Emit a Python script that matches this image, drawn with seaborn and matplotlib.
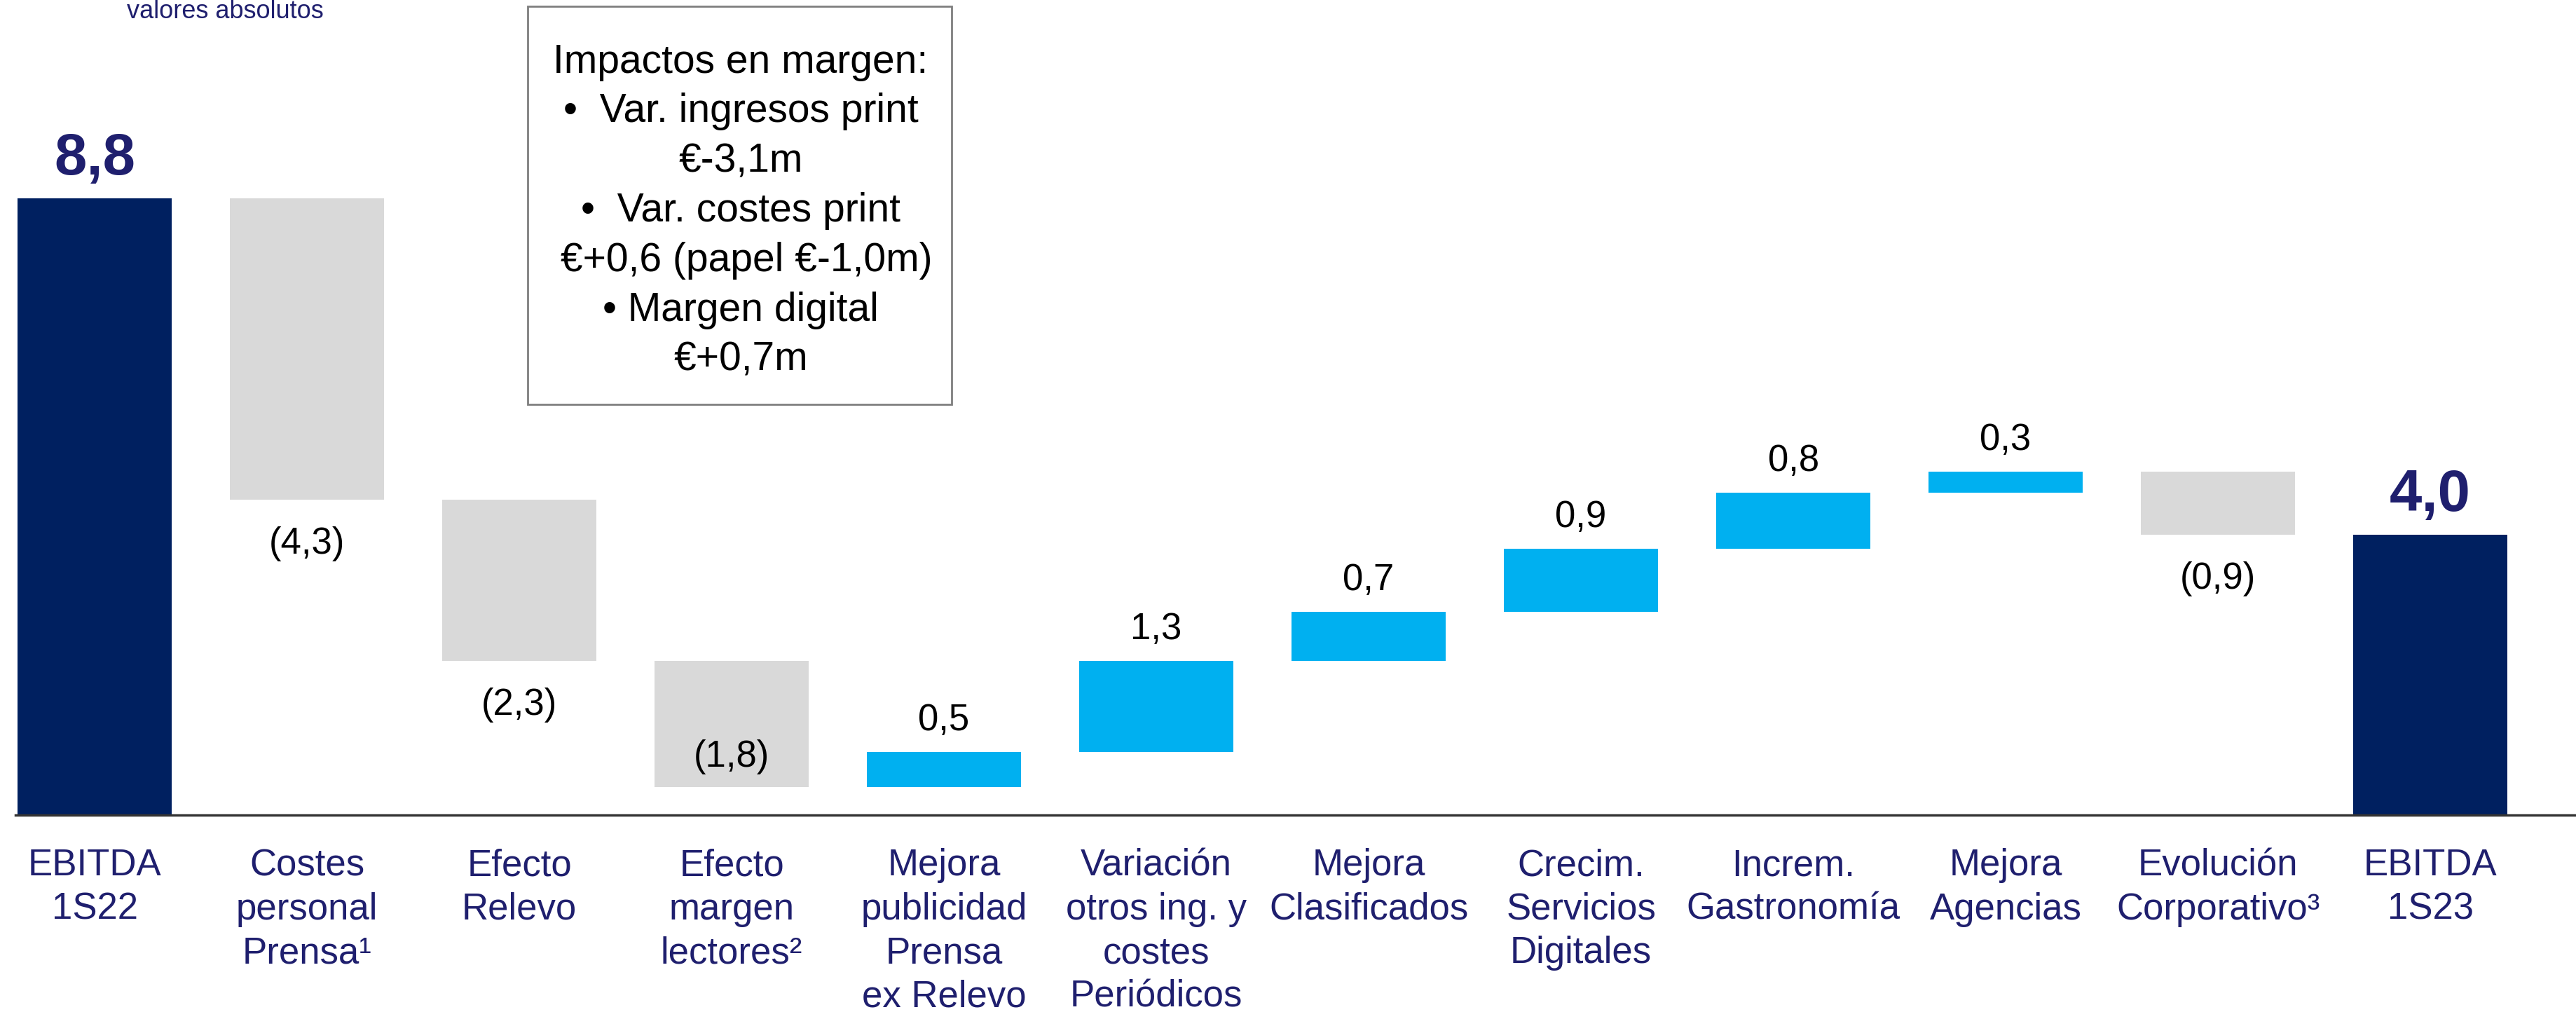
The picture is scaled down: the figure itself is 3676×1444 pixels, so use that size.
import matplotlib
matplotlib.use("Agg")
import matplotlib.pyplot as plt
from matplotlib.patches import Rectangle
import pandas as pd
import seaborn as sns

# Waterfall data (EBITDA bridge, EUR m)
categories = [
    "EBITDA\n1S22", "Costes\npersonal\nPrensa¹", "Efecto\nRelevo",
    "Efecto\nmargen\nlectores²", "Mejora\npublicidad\nPrensa\nex Relevo",
    "Variación\notros ing. y\ncostes\nPeriódicos", "Mejora\nClasificados",
    "Crecim.\nServicios\nDigitales", "Increm.\nGastronomía", "Mejora\nAgencias",
    "Evolución\nCorporativo³", "EBITDA\n1S23",
]
changes = [8.8, -4.3, -2.3, -1.8, 0.5, 1.3, 0.7, 0.9, 0.8, 0.3, -0.9, 4.0]
is_total = [True] + [False] * 10 + [True]

box_lines = [
    "Impactos en margen:",
    "•  Var. ingresos print",
    "€-3,1m",
    "•  Var. costes print",
    " €+0,6 (papel €-1,0m)",
    "• Margen digital",
    "€+0,7m",
]

NAVY = "#002060"
GREY = "#D9D9D9"
CYAN = "#00B0F0"
TEXT_NAVY = "#1F1F6E"

# build the floating bars
rows = []
level = 0.0
for cat, v, tot in zip(categories, changes, is_total):
    if tot:
        low, high = 0.0, v
        level = v
        kind = "total"
    else:
        new = level + v
        low, high = min(level, new), max(level, new)
        level = new
        kind = "neg" if v < 0 else "pos"
    rows.append({"cat": cat, "value": v, "low": low, "high": high, "kind": kind})
df = pd.DataFrame(rows)
df["height"] = df["high"] - df["low"]

sns.set_style("white")
plt.rcParams["font.family"] = ["Liberation Sans", "DejaVu Sans"]

fig = plt.figure(figsize=(36.76, 14.44), dpi=100)
ax = fig.add_axes([22 / 3676, 281 / 1444, 1 - 22 / 3676, 1163 / 1444])

palette = {"total": NAVY, "neg": GREY, "pos": CYAN}
sns.barplot(data=df, x="cat", y="height", hue="kind", palette=palette,
            order=categories, dodge=False, width=0.726, saturation=1,
            legend=False, ax=ax)

# lift each bar to its waterfall position
for p in ax.patches:
    i = int(round(p.get_x() + p.get_width() / 2))
    if 0 <= i < len(df) and p.get_height() > 0:
        p.set_y(df.loc[i, "low"])
        p.set_linewidth(0)

ax.set_xlim(-0.373, 11.686)
ax.set_ylim(0, 11.63)

# value labels
for i, r in df.iterrows():
    txt = f"{abs(r['value']):.1f}".replace(".", ",")
    if r["kind"] == "total":
        ax.text(i, r["high"] + 0.17, txt, ha="center", va="bottom",
                fontsize=60, fontweight="bold", color=TEXT_NAVY)
    elif r["kind"] == "pos":
        ax.text(i, r["high"] + 0.2, txt, ha="center", va="bottom",
                fontsize=38, color="black")
    else:
        txt = f"({txt})"
        if r["low"] < 1.0:
            ax.text(i, r["low"] + 0.43, txt, ha="center", va="center",
                    fontsize=38, color="black")
        else:
            ax.text(i, r["low"] - 0.38, txt, ha="center", va="top",
                    fontsize=38, color="black")

ax.set_xlabel("")
ax.set_ylabel("")
ax.set_yticks([])
ax.set_xticks(range(len(categories)))
ax.set_xticklabels(categories, fontsize=38, color=TEXT_NAVY, linespacing=1.32)
ax.tick_params(axis="x", length=0, pad=34)
for s in ["top", "right", "left"]:
    ax.spines[s].set_visible(False)
ax.spines["bottom"].set_color("#333333")
ax.spines["bottom"].set_linewidth(2.5)

# note box
fig.patches.append(Rectangle((753 / 3676, 1 - 577 / 1444), 605 / 3676, 568 / 1444,
                             transform=fig.transFigure, fill=False,
                             edgecolor="#7F7F7F", linewidth=2))
fig.text(1057 / 3676, 1 - 301 / 1444, "\n".join(box_lines), ha="center", va="center",
         multialignment="center", fontsize=41, color="black", linespacing=1.40)

fig.text(321 / 3676, 1 - 26 / 1444, "valores absolutos", ha="center", va="baseline",
         fontsize=26, color=TEXT_NAVY)

fig.savefig("out.png", dpi=100)
